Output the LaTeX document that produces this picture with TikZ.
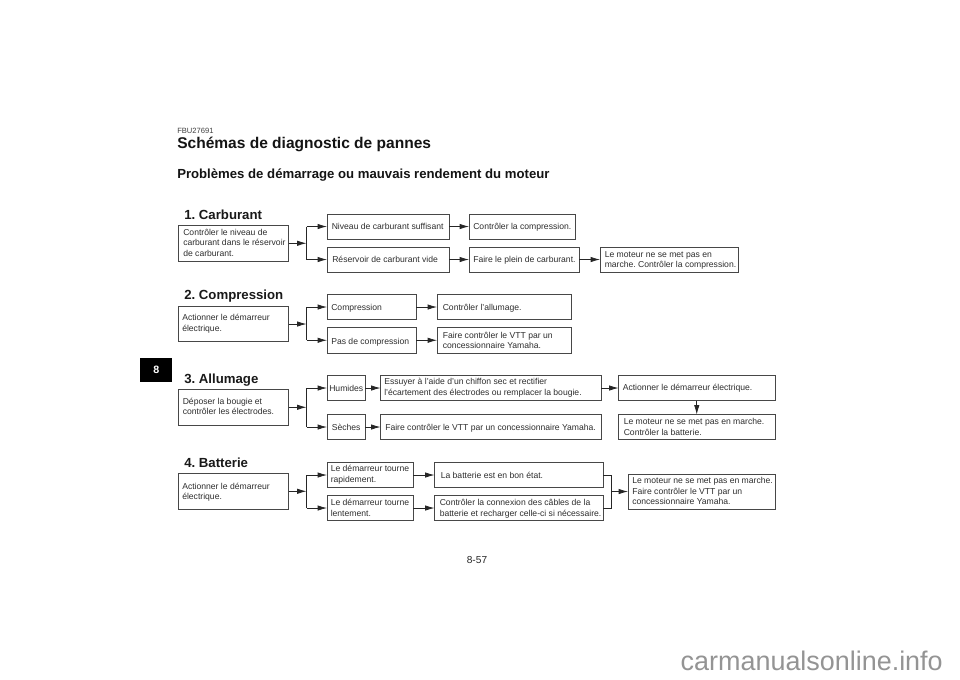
\documentclass[tikz,border=0pt]{standalone}
\usepackage{fontspec}
\setmainfont{Liberation Sans}
\usetikzlibrary{arrows.meta,calc}
\frenchspacing
\tikzset{
  x=0.75pt,y=-0.75pt,
  box/.style={draw=black!72,line width=0.62pt,inner sep=0pt,outer sep=0pt,fill=white},
  txt/.style={anchor=west,inner sep=0,align=left,yshift=-0.7pt,font=\fontsize{6.45pt}{8pt}\selectfont,text=black!82,
    execute at begin node=\strut,execute at end node=\strut},
  head/.style={anchor=base west,inner sep=0,font=\fontsize{9.9pt}{12pt}\bfseries\selectfont,text=black!90},
  conn/.style={draw=black!85,line width=0.55pt,-{Latex[length=7pt,width=4pt]}},
  plain/.style={draw=black!85,line width=0.55pt},
}
\newcommand{\bx}[5]{% name, x1,y1,x2,y2
  \node[box,minimum width=#4*0.75pt-#2*0.75pt,minimum height=#5*0.75pt-#3*0.75pt,anchor=north west] (#1) at (#2,#3) {};}
\begin{document}
\begin{tikzpicture}
\useasboundingbox (0,0) rectangle (960,679);
\fill[white] (0,0) rectangle (960,679);
% titles
\node[anchor=base west,inner sep=0,font=\fontsize{5.7pt}{6pt}\selectfont,text=black!75] (code) at (177,133.5) {FBU27691};
\node[anchor=base west,inner sep=0,font=\fontsize{11.65pt}{14pt}\bfseries\selectfont,text=black!92] (title) at (177,148.5) {Schémas de diagnostic de pannes};
\node[anchor=base west,inner sep=0,font=\fontsize{9.87pt}{12pt}\bfseries\selectfont,text=black!92] (sub) at (177,178.5) {Problèmes de démarrage ou mauvais rendement du moteur};
% tab
\node[fill=black,minimum width=32*0.75pt,minimum height=24*0.75pt,inner sep=0,anchor=north west,text=white,font=\fontsize{8pt}{9pt}\bfseries\selectfont] (tab) at (140,358) {8};
% section heads
\node[head] (h1) at (184,219) {1. Carburant};
\node[head] (h2) at (184,299.5) {2. Compression};
\node[head] (h3) at (184,383) {3. Allumage};
\node[head] (h4) at (184,467) {4. Batterie};
% section 1
\bx{a0}{178.5}{225.5}{288.5}{261}
\bx{a1}{327}{214}{449}{239}
\bx{a2}{327}{247}{449}{272}
\bx{a3}{469}{214}{575}{239}
\bx{a4}{469}{247}{579}{272}
\bx{a5}{600}{247}{738}{272}
\node[txt] (ta0) at (183,243.5) {Contrôler le niveau de\\carburant dans le réservoir\\de carburant.};
\node[txt] (ta1) at (331.5,226.3) {Niveau de carburant suffisant};
\node[txt] (ta2) at (332,259.3) {Réservoir de carburant vide};
\node[txt] (ta3) at (473,226.5) {Contrôler la compression.};
\node[txt] (ta4) at (473,259.5) {Faire le plein de carburant.};
\node[txt] (ta5) at (604.5,260.3) {Le moteur ne se met pas en\\marche. Contrôler la compression.};
% section 2
\bx{b0}{178.5}{306.5}{288.5}{341.5}
\bx{b1}{327}{294.5}{416}{319.5}
\bx{b2}{327}{327.5}{416}{353}
\bx{b3}{437}{294.5}{571}{319.5}
\bx{b4}{437}{327.5}{571}{353}
\node[txt] (tb0) at (182,323.2) {Actionner le démarreur\\électrique.};
\node[txt] (tb1) at (331,307) {Compression};
\node[txt] (tb2) at (331,341) {Pas de compression};
\node[txt] (tb3) at (442.5,307) {Contrôler l’allumage.};
\node[txt] (tb4) at (442.5,341) {Faire contrôler le VTT par un\\concessionnaire Yamaha.};
% section 3
\bx{c0}{178.5}{389.5}{288.5}{425}
\bx{c1}{327}{375.5}{365}{400.5}
\bx{c2}{327}{414.5}{365}{439.5}
\bx{c3}{380.5}{375.5}{601}{400.5}
\bx{c4}{380.5}{414.5}{601}{439.5}
\bx{c5}{618.5}{375.5}{775}{400.5}
\bx{c6}{618.5}{414.5}{775}{439.5}
\node[txt] (tc0) at (182.5,407) {Déposer la bougie et\\contrôler les électrodes.};
\node[txt] (tc1) at (329,388.7) {Humides};
\node[txt] (tc2) at (331.5,427.3) {Sèches};
\node[txt,font=\fontsize{6.45pt}{8.6pt}\selectfont] (tc3) at (384,387.5) {Essuyer à l’aide d’un chiffon sec et rectifier\\l’écartement des électrodes ou remplacer la bougie.};
\node[txt] (tc4) at (385,427.3) {Faire contrôler le VTT par un concessionnaire Yamaha.};
\node[txt] (tc5) at (622.5,387.3) {Actionner le démarreur électrique.};
\node[txt] (tc6) at (623.5,427.5) {Le moteur ne se met pas en marche.\\Contrôler la batterie.};
% section 4
\bx{d0}{178.5}{473.5}{288.5}{509}
\bx{d1}{327}{462.5}{413}{487.5}
\bx{d2}{327}{495.5}{413}{520.5}
\bx{d3}{434.5}{462.5}{603}{487.5}
\bx{d4}{434.5}{495.5}{603}{520.5}
\bx{d5}{628}{474.5}{775}{509}
\node[txt] (td0) at (182,492) {Actionner le démarreur\\électrique.};
\node[txt] (td1) at (330.5,474.7) {Le démarreur tourne\\rapidement.};
\node[txt] (td2) at (330.5,508.3) {Le démarreur tourne\\lentement.};
\node[txt] (td3) at (440.5,475) {La batterie est en bon état.};
\node[txt] (td4) at (439.5,508.8) {Contrôler la connexion des câbles de la\\batterie et recharger celle-ci si nécessaire.};
\node[txt] (td5) at (632,491.7) {Le moteur ne se met pas en marche.\\Faire contrôler le VTT par un\\concessionnaire Yamaha.};
% connectors: forks
\foreach \s/\p/\q in {a0/a1/a2,b0/b1/b2,c0/c1/c2,d0/d1/d2}{
  \coordinate (j\s) at ($(\s.east)+(18,0)$);
  \draw[conn] (\s.east) -- (j\s);
  \draw[plain] (\p.west -| j\s) -- (\q.west -| j\s);
  \draw[conn] (\p.west -| j\s) -- (\p.west);
  \draw[conn] (\q.west -| j\s) -- (\q.west);
}
\foreach \s/\t in {a1/a3,a2/a4,a4/a5,b1/b3,b2/b4,c1/c3,c2/c4,c3/c5,d1/d3,d2/d4}{
  \draw[conn] (\s.east) -- (\t.west);
}
\draw[conn] (c5.south) -- (c6.north);
% merge
\coordinate (jm) at (611.7,491.5);
\draw[plain] (d3.east) -| (jm);
\draw[plain] (d4.east) -| (jm);
\draw[conn] (jm) -- (jm -| d5.west);
% page number and footer
\node[anchor=center,inner sep=0,font=\fontsize{7.6pt}{9pt}\selectfont,text=black!85] (pg) at (477,560) {8-57};
\node[anchor=base east,inner sep=0,font=\fontsize{20.2pt}{22pt}\selectfont,text=black!42] (wm) at (943,670.7) {carmanualsonline.info};
\end{tikzpicture}
\end{document}
